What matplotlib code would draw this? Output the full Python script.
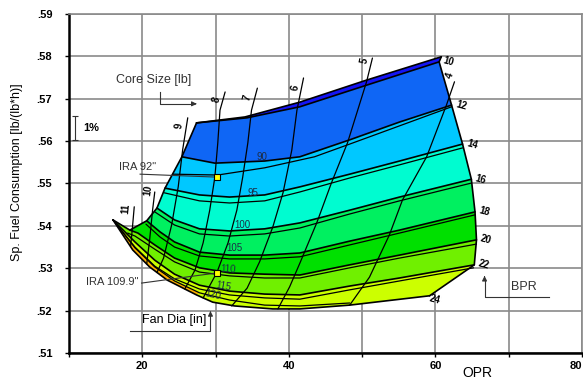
import numpy as np
import matplotlib.pyplot as plt

plt.rcParams['font.family'] = ['Liberation Sans', 'DejaVu Sans']

# carpet: (OPR, SFC) points, each line listed from its right end to its left end
top_edge = [(60.8, .5799), (50.6, .5744), (41.5, .5692), (34.0, .5657), (27.4, .5643)]

bpr_10 = [(60.5, .5787), (50.6, .5732), (41.5, .5681), (34.3, .5655), (27.4, .5643)]
bpr_12 = [(62.2, .5685), (55.1, .5645), (48.3, .5603), (41.5, .5563), (36.7, .5553),
          (29.9, .5548), (25.4, .5563)]
bpr_14 = [(63.7, .5593), (55.1, .5553), (48.3, .5522), (41.5, .5492), (36.7, .5473),
          (31.9, .5468), (27.8, .5473), (23.1, .5489)]
bpr_16 = [(64.9, .5510), (55.1, .5468), (48.3, .5437), (41.5, .5407), (36.7, .5393),
          (31.9, .5388), (27.8, .5393), (24.4, .5414), (22.0, .5442)]
bpr_18 = [(65.4, .5433), (55.1, .5390), (48.3, .5364), (41.5, .5336), (36.7, .5331),
          (31.9, .5331), (27.8, .5338), (24.4, .5362), (22.4, .5386), (20.6, .5412)]
bpr_20 = [(65.6, .5367), (55.1, .5331), (48.3, .5308), (41.5, .5284), (36.7, .5286),
          (31.9, .5289), (27.8, .5301), (24.4, .5324), (21.7, .5355), (19.4, .5383),
          (18.3, .5390)]
bpr_22 = [(65.3, .5308), (55.1, .5277), (48.3, .5258), (41.5, .5237), (36.7, .5239),
          (31.9, .5246), (27.8, .5260), (24.4, .5286), (21.7, .5319), (19.0, .5362),
          (16.0, .5414)]
bpr_24 = [(59.2, .5235), (48.3, .5213), (41.5, .5204), (37.8, .5204), (32.6, .5211),
          (29.6, .5220), (27.4, .5237), (23.4, .5272), (21.0, .5303), (18.7, .5343),
          (16.0, .5414)]

bpr_values = [10, 12, 14, 16, 18, 20, 22, 24]
bpr_lines = [bpr_10, bpr_12, bpr_14, bpr_16, bpr_18, bpr_20, bpr_22, bpr_24]
band_colors = ['#0f66f5', '#00c8ff', '#00fcd0', '#00f060', '#00e000', '#70f000', '#ccff00']

# fan diameter contours [in]
fan_90 = [(62.2, .5681), (55.1, .5636), (48.3, .5593), (43.5, .5563), (36.7, .5537),
          (30.3, .5520), (24.2, .5522)]
fan_95 = [(63.7, .5584), (55.1, .5544), (48.3, .5513), (41.5, .5480), (36.7, .5459),
          (31.9, .5454), (27.8, .5459), (23.0, .5478)]
fan_100 = [(64.9, .5501), (55.1, .5459), (48.3, .5428), (41.5, .5395), (36.7, .5381),
           (31.9, .5376), (27.8, .5381), (24.4, .5402), (21.7, .5433)]
fan_105 = [(65.4, .5426), (55.1, .5383), (48.3, .5355), (41.5, .5327), (36.7, .5322),
           (31.9, .5322), (27.8, .5329), (24.4, .5350), (22.4, .5374), (20.5, .5404)]
fan_110 = [(65.6, .5357), (55.1, .5324), (48.3, .5301), (41.5, .5277), (36.7, .5277),
           (31.9, .5282), (27.8, .5291), (24.4, .5315), (21.7, .5345), (19.0, .5376),
           (18.0, .5383)]
fan_115 = [(65.2, .5301), (55.1, .5270), (48.3, .5249), (41.5, .5227), (36.7, .5230),
           (31.9, .5237), (27.8, .5251), (24.4, .5275), (21.7, .5305), (19.0, .5350),
           (16.0, .5414)]
fan_120 = [(48.3, .5218), (41.5, .5211), (36.7, .5213), (31.9, .5225), (27.8, .5242),
           (24.4, .5270), (21.7, .5303), (19.0, .5348), (16.0, .5414)]

fan_values = [90, 95, 100, 105, 110, 115, 120]
fan_lines = [fan_90, fan_95, fan_100, fan_105, fan_110, fan_115, fan_120]
fan_label_pos = [(36.3, .5563), (35.1, .5478), (33.7, .5402), (32.6, .5348),
                 (31.7, .5298), (31.0, .5258), (29.6, .5237)]
fan_label_rot = [0, 0, 0, 0, -3, -10, -12]

# core size lines [lb], top end first
core_4 = [(62.6, .5740), (61.5, .5685), (58.8, .5563), (55.5, .5461), (53.7, .5378),
          (51.0, .5279), (48.3, .5213)]
core_5 = [(51.4, .5796), (50.6, .5740), (48.0, .5596), (45.8, .5501), (43.8, .5407),
          (41.5, .5312), (40.1, .5256), (38.5, .5204)]
core_6 = [(42.0, .5749), (41.1, .5673), (40.4, .5579), (39.2, .5478), (37.8, .5397),
          (36.0, .5315), (34.3, .5253), (32.2, .5211)]
core_7 = [(35.7, .5725), (34.9, .5673), (34.4, .5596), (33.7, .5515), (32.9, .5437),
          (31.7, .5360), (30.2, .5291), (28.3, .5230)]
core_8 = [(31.3, .5716), (30.6, .5673), (30.3, .5596), (29.9, .5515), (29.2, .5437),
          (28.3, .5360), (27.2, .5296), (25.8, .5251)]
core_9 = [(26.2, .5655), (25.5, .5579), (24.9, .5492), (24.0, .5402), (22.9, .5324),
          (22.0, .5290)]
core_10 = [(21.7, .5480), (21.4, .5437), (21.0, .5367), (20.6, .5310)]
core_11 = [(18.9, .5445), (18.6, .5386), (18.4, .5351)]

core_values = [4, 5, 6, 7, 8, 9, 10, 11]
core_lines = [core_4, core_5, core_6, core_7, core_8, core_9, core_10, core_11]
core_label_pos = [(62.0, .5756), (50.3, .5791), (40.8, .5725), (34.3, .5702),
                  (30.2, .5697), (25.0, .5636), (20.8, .5485), (17.8, .5440)]

# reference engines
ira_names = ['IRA 92"', 'IRA 109.9"']
ira_points = [(30.2, .5515), (30.2, .5289)]
ira_text_pos = [(21.9, .5539), (19.4, .5268)]
ira_leader_from = [(19.7, .5522), (19.9, .5265)]

x_ticks = [10, 20, 30, 40, 50, 60, 70, 80]
x_tick_labels = ['', '20', '', '40', '', '60', '', '80']
y_ticks = [.51, .52, .53, .54, .55, .56, .57, .58, .59]
y_tick_labels = ['.51', '.52', '.53', '.54', '.55', '.56', '.57', '.58', '.59']


def xy(line):
    a = np.array(line)
    return a[:, 0], a[:, 1]


def band(ax, upper, lower, color):
    pts = np.array(list(upper) + list(lower)[::-1])
    ax.fill(pts[:, 0], pts[:, 1], color=color, lw=0, zorder=2)


fig = plt.figure(figsize=(5.83, 3.81), dpi=100)
ax = fig.add_axes([0.1184, 0.0735, 0.8799, 0.8898])
ax.set_xlim(10, 80)
ax.set_ylim(.51, .59)

# filled bands
band(ax, top_edge, bpr_10, '#1414f5')
for k, c in enumerate(band_colors):
    band(ax, bpr_lines[k], bpr_lines[k + 1], c)
band(ax, fan_120[4:], bpr_24[6:], '#ffb000')

# carpet lines
ink = dict(color='black', solid_capstyle='round', zorder=3)
ax.plot(*xy(top_edge), lw=1.2, **ink)
for line in bpr_lines:
    ax.plot(*xy(line), lw=1.2, **ink)
for line in fan_lines:
    ax.plot(*xy(line), lw=0.9, **ink)
for line in core_lines:
    ax.plot(*xy(line), lw=0.9, **ink)
right_edge = [top_edge[0]] + [l[0] for l in bpr_lines]
left_edge = [top_edge[-1]] + [l[-1] for l in bpr_lines[1:]]
ax.plot(*xy(right_edge), lw=1.2, **ink)
ax.plot(*xy(left_edge), lw=1.2, **ink)

# labels on the carpet
for v, line in zip(bpr_values, bpr_lines):
    dy = -2 if v == 24 else 1
    dx = 0 if v == 24 else 3
    ax.annotate(str(v), xy=line[0], xytext=(dx, dy), textcoords='offset points',
                ha='left', va='center', fontsize=7, fontweight='bold',
                rotation=-15, rotation_mode='anchor', zorder=6)
for v, pos, rot in zip(fan_values, fan_label_pos, fan_label_rot):
    ax.text(pos[0], pos[1], str(v), ha='center', va='center', fontsize=7,
            color='#1c2c44', rotation=rot, zorder=6)
for v, line, pos in zip(core_values, core_lines, core_label_pos):
    p0 = ax.transData.transform(line[0])
    p1 = ax.transData.transform(line[1])
    ang = np.degrees(np.arctan2(p0[1] - p1[1], p0[0] - p1[0]))
    ax.text(pos[0], pos[1], str(v), ha='center', va='center', fontsize=7,
            fontweight='bold', rotation=ang, zorder=6)

# reference engines
for name, pt, tpos, lead in zip(ira_names, ira_points, ira_text_pos, ira_leader_from):
    ax.plot([lead[0], pt[0]], [lead[1], pt[1]], color='#333333', lw=0.8, zorder=4)
    ax.plot(pt[0], pt[1], 's', ms=4.5, mfc='#ffff00', mec='black', mew=0.8, zorder=7)
    ax.text(tpos[0], tpos[1], name, ha='right', va='center', fontsize=8,
            color='#333333', zorder=6)

# axis-name callouts
arrow = dict(arrowstyle='-|>', color='#333333', lw=0.8, mutation_scale=7)
ax.text(21.6, .5744, 'Core Size [lb]', ha='center', va='center', fontsize=9, color='#333333')
ax.plot([22.4, 22.4, 27.0], [.5716, .5688, .5688], color='#333333', lw=0.8)
ax.annotate('', xy=(27.8, .5688), xytext=(26.8, .5688), arrowprops=arrow)

ax.text(24.3, .5178, 'Fan Dia [in]', ha='center', va='center', fontsize=9)
ax.plot([18.3, 29.3, 29.3], [.5152, .5152, .5192], color='#333333', lw=0.8)
ax.annotate('', xy=(29.3, .5199), xytext=(29.3, .5189), arrowprops=arrow)

ax.text(72.1, .5256, 'BPR', ha='center', va='center', fontsize=9, color='#333333')
ax.plot([75.5, 66.7, 66.7], [.5232, .5232, .5275], color='#333333', lw=0.8)
ax.annotate('', xy=(66.7, .5282), xytext=(66.7, .5272), arrowprops=arrow)

ax.errorbar(10.8, .5631, yerr=.0028, color='#333333', lw=0.8, capsize=2.5, capthick=0.8)
ax.text(11.9, .5631, '1%', ha='left', va='center', fontsize=8, fontweight='bold')

# axes styling
ax.set_xticks(x_ticks, x_tick_labels, fontsize=8, fontweight='bold')
ax.set_yticks(y_ticks, y_tick_labels, fontsize=8, fontweight='bold')
ax.get_xticklabels()[-1].set_horizontalalignment('right')
ax.tick_params(axis='both', length=3, width=1, color='black')
ax.tick_params(axis='y', pad=9)
ax.tick_params(axis='x', pad=3)
ax.grid(True, color='#8a8a8a', lw=1.2)
ax.set_axisbelow(True)
for side in ['left', 'bottom']:
    ax.spines[side].set_linewidth(1.8)
for side in ['top', 'right']:
    ax.spines[side].set_color('#8a8a8a')
    ax.spines[side].set_linewidth(1.2)

fig.text(17 / 583, 1 - 172 / 381, 'Sp. Fuel Consumption [lb/(lb*h)]', rotation=90,
         ha='center', va='center', fontsize=9)
fig.text(477 / 583, 1 - 373 / 381, 'OPR', ha='center', va='center', fontsize=10)

fig.savefig('out.png', dpi=100)
